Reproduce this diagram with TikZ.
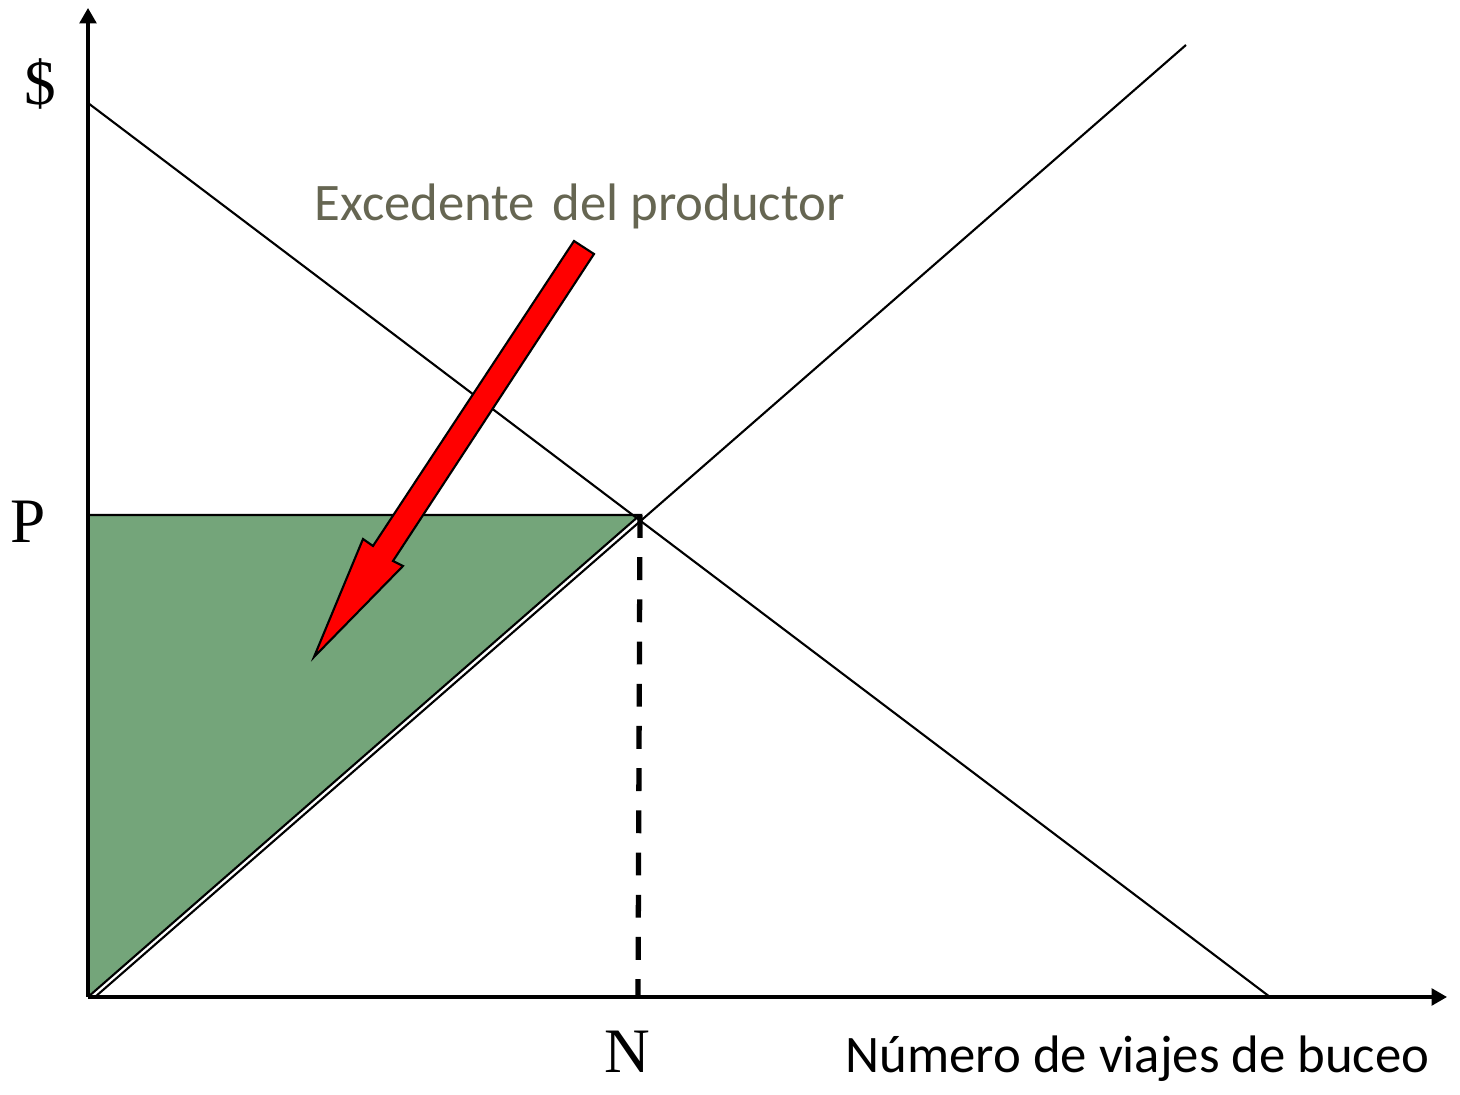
\documentclass[tikz,border=0pt]{standalone}
\usepackage{fontspec}
\setmainfont{Liberation Serif}
\newfontfamily\calib{Carlito}
\usetikzlibrary{arrows.meta}
\definecolor{surplus}{RGB}{116,165,122}
\definecolor{labelgrey}{RGB}{102,102,82}
\tikzset{
  axis/.style={line width=0.9pt,-{Triangle[length=4.4pt,width=4.8pt]}},
  curve/.style={line width=0.6pt},
  serlab/.style={font=\fontsize{18}{20}\selectfont,inner sep=0pt},
  sanslab/.style={font=\calib\fontsize{15}{18}\selectfont,inner sep=0pt},
}
\begin{document}
\begin{tikzpicture}[x=0.01cm,y=-0.01cm]
\useasboundingbox (0,0) rectangle (1460,1095);
% key coordinates
\coordinate (O) at (88,997);
\coordinate (Ytop) at (88,8);
\coordinate (Xend) at (1447,997);
\coordinate (Pax) at (88,515);
\coordinate (E) at (640,515);
\coordinate (Nax) at (638,997);
\coordinate (D0) at (88,103);
\coordinate (D1) at (1270,997);
\coordinate (S0) at (95,997);
\coordinate (S1) at (1186,45);
% producer surplus triangle
\fill[surplus] (O) -- (Pax) -- (E) -- cycle;
\draw[curve] (Pax) -- (E) -- (O);
% demand and supply
\draw[curve] (D0) -- (D1);
\draw[curve] (S0) -- (S1);
% dashed drop line
\draw[line width=1.5pt,dash pattern=on 6.5pt off 5.5pt] (E) -- (Nax);
% axes
\draw[axis] (O) -- (Ytop);
\draw[axis] (O) -- (Xend);
% red block arrow
\draw[fill=red,line width=0.6pt,line join=miter]
  (574,241) -- (594,254) -- (393,561) -- (403,566) -- (314,657)
  -- (363,539) -- (373,546) -- cycle;
% labels
\node[serlab] (dollar) at (40,84) {\$};
\node[serlab] (plab) at (28,522) {P};
\node[serlab] (nlab) at (627,1052) {N};
\node[sanslab,text=labelgrey,anchor=west] (excl) at (314,206) {Excedente\hspace{1.5pt} del productor};
\node[sanslab,anchor=east] (xlab) at (1430,1059) {Número de viajes de buceo};
\end{tikzpicture}
\end{document}
